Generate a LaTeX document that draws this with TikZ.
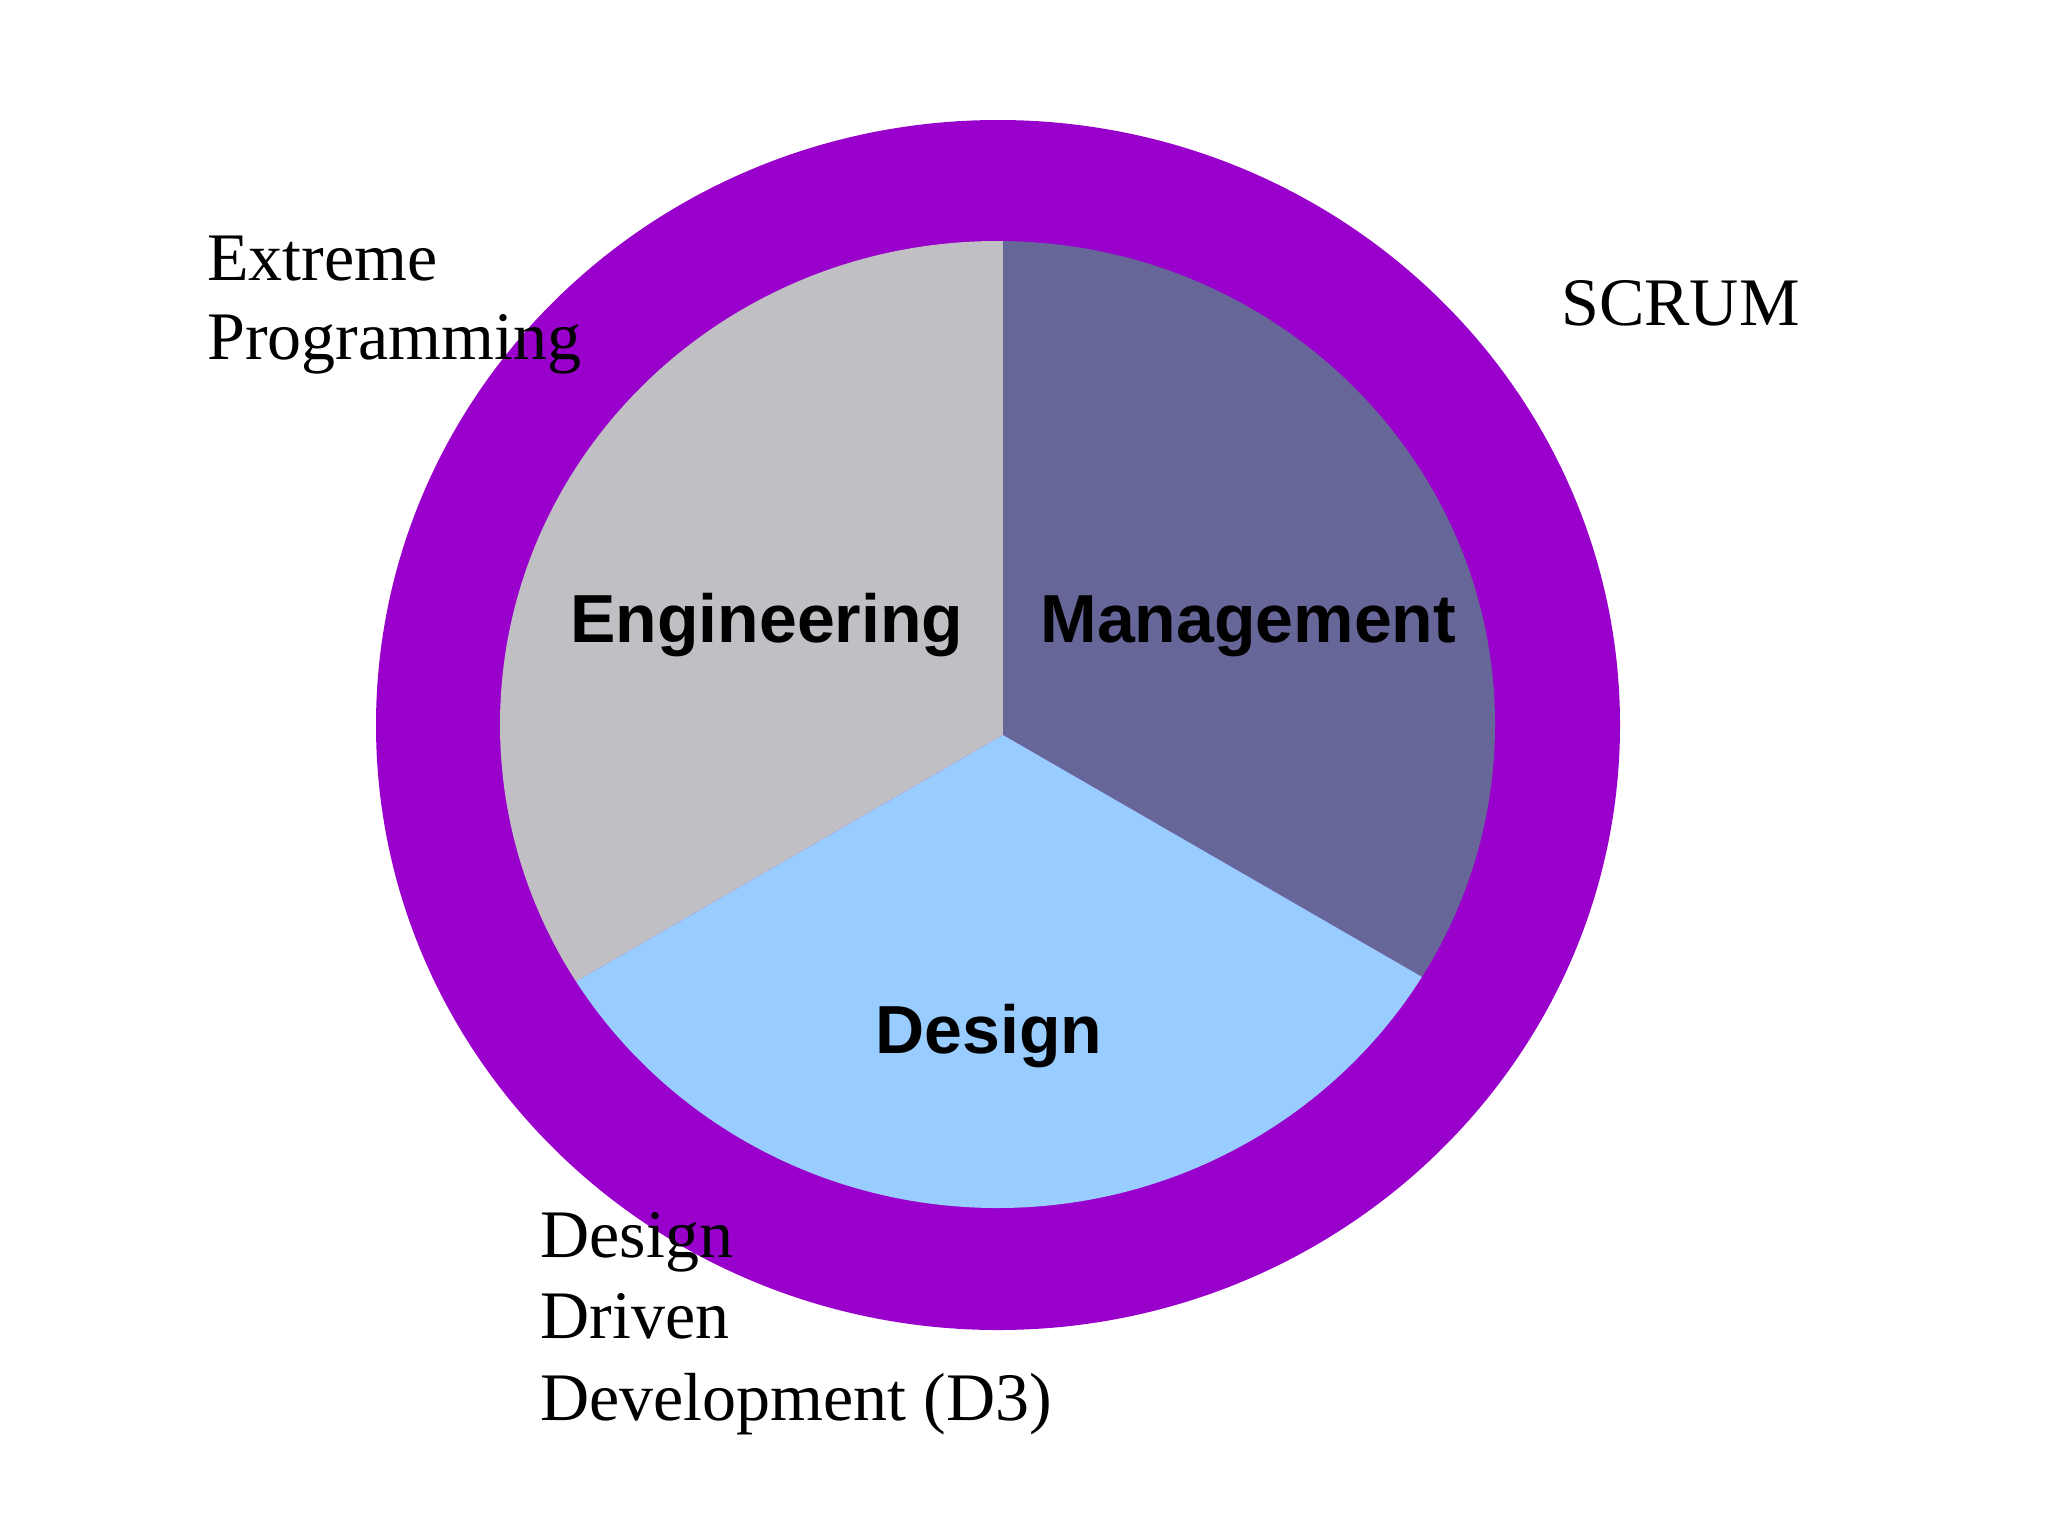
\documentclass[tikz,border=0pt]{standalone}
\usepackage{fontspec}
\setmainfont{Liberation Serif}
\newfontfamily\labsans{Liberation Sans}
\definecolor{ringpurple}{HTML}{9900CC}
\definecolor{enggray}{HTML}{C0BFC3}
\definecolor{mgmtblue}{HTML}{666699}
\definecolor{designblue}{HTML}{99CCFF}
\tikzset{
  outlabel/.style={anchor=base west, inner sep=0pt, font=\fontsize{34}{40}\selectfont, text=black},
  seclabel/.style={anchor=base west, inner sep=0pt, font=\labsans\bfseries\fontsize{34}{40}\selectfont, text=black}
}
\begin{document}
\begin{tikzpicture}[x=0.5pt, y=-0.5pt]
  \useasboundingbox (0,0) rectangle (2048,1536);
  \fill[white] (0,0) rectangle (2048,1536);
  % outer ring
  \fill[ringpurple] (998,725) ellipse [x radius=622, y radius=605];
  % pie
  \coordinate (C) at (1003,735);
  \coordinate (U) at (1003,150);
  \coordinate (R) at (1695.8,1135);
  \coordinate (L) at (310.2,1135);
  \begin{scope}
    \clip (997.5,724.5) ellipse [x radius=497.5, y radius=483.5];
    \fill[enggray] (C) -- (U) -- (250,150) -- (250,1135) -- (L) -- cycle;
    \fill[mgmtblue] (C) -- (U) -- (1750,150) -- (1750,1135) -- (R) -- cycle;
    \fill[designblue] (C) -- (L) -- (250,1135) -- (250,1300) -- (1750,1300) -- (1750,1135) -- (R) -- cycle;
  \end{scope}
  % section labels
  \node[seclabel] (eng) at (570,642) {Engineering};
  \node[seclabel] (mgmt) at (1040,642) {Management};
  \node[seclabel] (des) at (875,1053) {Design};
  % outside labels
  \node[outlabel] (xp1) at (207,280) {Extreme};
  \node[outlabel] (xp2) at (207,359) {Programming};
  \node[outlabel] (scrum) at (1561,325) {SCRUM};
  \node[outlabel] (ddd1) at (540,1257) {Design};
  \node[outlabel] (ddd2) at (540,1338) {Driven};
  \node[outlabel] (ddd3) at (540,1420) {Development (D3)};
\end{tikzpicture}
\end{document}
